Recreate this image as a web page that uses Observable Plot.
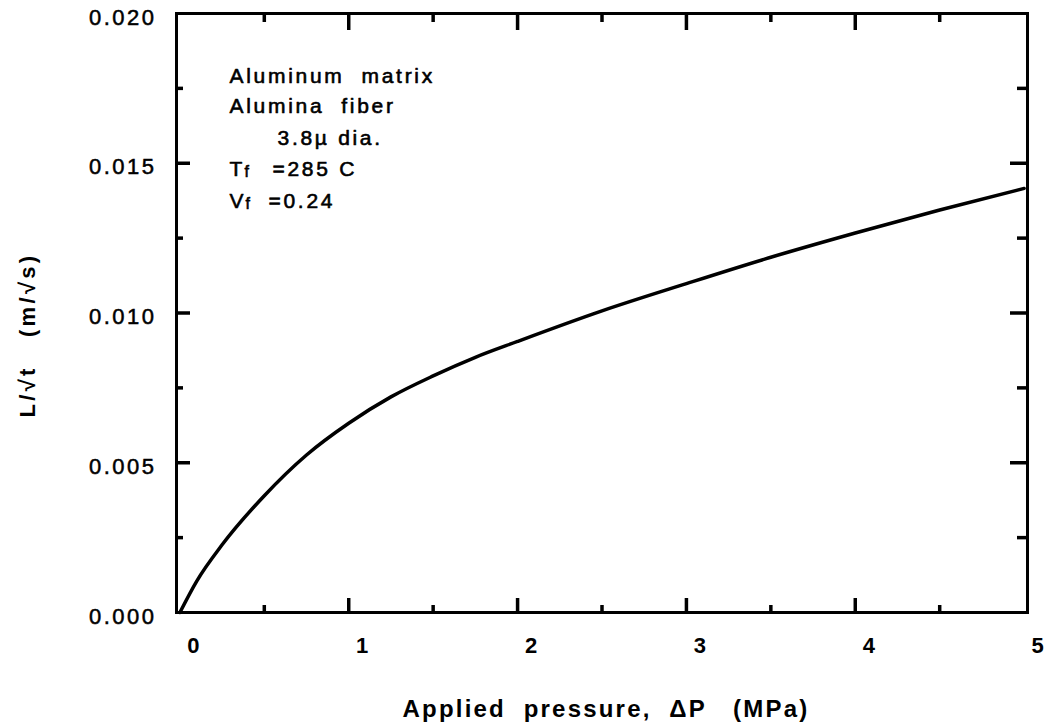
<!DOCTYPE html>
<html>
<head>
<meta charset="utf-8">
<script src="https://cdn.jsdelivr.net/npm/d3@7"></script>
<script src="https://cdn.jsdelivr.net/npm/@observablehq/plot@0.6"></script>
<style>
  html, body { margin: 0; padding: 0; background: #fff; overflow: hidden; }
  #chart svg { display: block; }
  #chart g[aria-label="y-axis tick label"] text { letter-spacing: 2.5px; stroke: black; stroke-width: 0.5px; }
  #chart g[aria-label="x-axis tick label"] text { letter-spacing: 1px; }
</style>
</head>
<body>
<div id="chart"></div>
<script>
// Infiltration kinetics: L/sqrt(t) versus applied pressure
const pressure = [0, 0.1, 0.25, 0.5, 0.75, 1.0, 1.25, 1.5, 1.75, 2.0, 2.5, 3.0, 3.5, 4.0, 4.5, 5.0];
const rate = [0, 0.00105, 0.00226, 0.0039, 0.00526, 0.00632, 0.0072, 0.0079, 0.00852, 0.00905, 0.01007, 0.01098, 0.01186, 0.01267, 0.01344, 0.01416];

const xTickLabels = [0, 1, 2, 3, 4, 5];
const yTickLabels = [0, 0.005, 0.010, 0.015, 0.020];
const xMajor = [1, 2, 3, 4];
const xMinor = [0.5, 1.5, 2.5, 3.5, 4.5];
const yMajor = [0.005, 0.010, 0.015];
const yMinor = [0.0025, 0.0075, 0.0125, 0.0175];

const noteLines = ["Aluminum  matrix", "Alumina  fiber", "3.8\u00b5 dia."];
const tempLabel = ["T", "f", "=285 C"];
const fracLabel = ["V", "f", "=0.24"];
const xTitle = "Applied  pressure,  \u0394P   (MPa)";
const yTitle = "L/\u221at   (m/\u221as)";

const W = 1047, H = 728;
const mt = 13, mr = 20, mb = 116, ml = 176;
const plotW = W - ml - mr, plotH = H - mt - mb;
const font = "'Liberation Sans', Arial, Helvetica, sans-serif";

const curveData = pressure.map((p, i) => ({p, r: rate[i]}));

const noteMark = (text, dx, dy, size = 21) =>
  Plot.text([text], {frameAnchor: "top-left", text: d => d, dx, dy, textAnchor: "start",
    fontSize: size, fontFamily: font, fill: "black", stroke: "black", strokeWidth: 0.6});

const chart = Plot.plot({
  width: W, height: H,
  marginTop: mt, marginRight: mr, marginBottom: mb, marginLeft: ml,
  style: {background: "#fff", color: "black", fontFamily: font},
  x: {domain: [-0.02, 5.02]},
  y: {domain: [0, 0.02]},
  marks: [
    Plot.frame({stroke: "black", strokeWidth: 3}),
    // inward ticks on all four sides
    Plot.tickX(xMajor, {x: d => d, insetTop: plotH - 14, strokeWidth: 3.5}),
    Plot.tickX(xMinor, {x: d => d, insetTop: plotH - 7, strokeWidth: 3.5}),
    Plot.tickX(xMajor, {x: d => d, insetBottom: plotH - 17, strokeWidth: 3.5}),
    Plot.tickX(xMinor, {x: d => d, insetBottom: plotH - 9, strokeWidth: 3.5}),
    Plot.tickY(yMajor, {y: d => d, insetRight: plotW - 14, strokeWidth: 3.5}),
    Plot.tickY(yMinor, {y: d => d, insetRight: plotW - 7, strokeWidth: 3.5}),
    Plot.tickY(yMajor, {y: d => d, insetLeft: plotW - 17, strokeWidth: 3.5}),
    Plot.tickY(yMinor, {y: d => d, insetLeft: plotW - 10, strokeWidth: 3.5}),
    Plot.axisX({ticks: xTickLabels, tickSize: 0, tickPadding: 25, dx: 14, label: null,
      tickFormat: d => String(d), fontSize: 22, fontWeight: "bold", fontFamily: font}),
    Plot.axisY({ticks: yTickLabels, tickSize: 0, tickPadding: 20, dy: 4, label: null,
      tickFormat: d3.format(".3f"), fontSize: 22, fontFamily: font}),
    Plot.line(curveData, {x: "p", y: "r", curve: "monotone-x", stroke: "black", strokeWidth: 3.5}),
    // annotation block
    noteMark(noteLines[0], 53, 55),
    noteMark(noteLines[1], 53, 85),
    noteMark(noteLines[2], 101, 117),
    noteMark(tempLabel[0], 53, 148),
    noteMark(tempLabel[1], 68, 152, 16),
    noteMark(tempLabel[2], 96, 148),
    noteMark(fracLabel[0], 53, 180),
    noteMark(fracLabel[1], 69, 184, 16),
    noteMark(fracLabel[2], 92, 180),
    // axis titles
    Plot.text([xTitle], {frameAnchor: "bottom", text: d => d, dx: 4, dy: 104, fontSize: 24,
      fontWeight: "bold", fontFamily: font}),
    Plot.text([yTitle], {frameAnchor: "left", text: d => d, textAnchor: "middle", rotate: -90,
      dx: -149, dy: 22, fontSize: 22, fontWeight: "bold", fontFamily: font})
  ]
});

// widen the letter spacing of the titles and the note block
const spacing = new Map([[xTitle, "2.2px"], [yTitle, "3.3px"]]);
[...noteLines, ...tempLabel, ...fracLabel].forEach(t => spacing.set(t, "2.7px"));
d3.select(chart).selectAll("text").each(function () {
  const s = spacing.get(this.textContent);
  if (s) this.style.letterSpacing = s;
});

document.getElementById("chart").appendChild(chart);
</script>
</body>
</html>
